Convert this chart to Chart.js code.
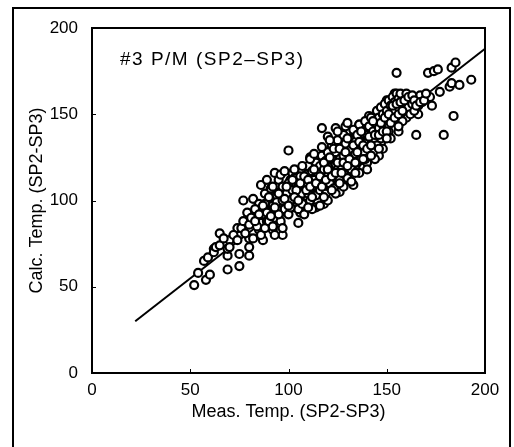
<!DOCTYPE html>
<html>
<head>
<meta charset="utf-8">
<script src="https://cdn.jsdelivr.net/npm/chart.js@4.4.0/dist/chart.umd.min.js"></script>
<style>
html,body{margin:0;padding:0;background:#fff;}
#wrap{width:514px;height:447px;position:relative;}
</style>
</head>
<body>
<div id="wrap"><canvas id="c" width="514" height="447"></canvas></div>
<script>
const chartTitle = "#3 P/M (SP2\u2013SP3)";
const xTitle = "Meas. Temp. (SP2-SP3)";
const yTitle = "Calc. Temp. (SP2-SP3)";
const xTicks = [0, 50, 100, 150, 200];
const yTicks = [0, 50, 100, 150, 200];

// fitted line end points
const fitX = [22, 200];
const fitY = [30, 188];

// measured temperatures (x) — each row pairs with the same row of calcY
const measX = [
 52,57,54,58,60,59,62,65,69,69,
 69,70,74,75,75,77,79,80,80,80,
 82,84,85,86,85,86,87,89,91,91,
 92,93,95,97,96,96,97,100,99,101,
 102,104,105,106,107,107,109,111,112,114,
 114,115,117,118,119,120,121,124,125,125,
 126,128,130,131,133,132,136,137,138,139,
 141,142,143,145,146,147,148,150,151,152,
 154,155,156,157,159,160,163,165,166,168,
 171,173,174,176,177,179,182,183,183,184,
 185,187,193,172,
 86,88,89,91,92,93,94,95,96,97,
 98,99,100,100,101,102,103,103,104,105,105,106,
 106,107,108,108,109,110,110,111,112,112,113,114,114,115,115,
 116,116,117,117,118,118,119,119,120,120,121,121,122,122,123,123,124,124,125,125,
 126,126,127,127,128,128,128,129,129,130,130,131,131,132,132,133,133,134,134,135,135,
 136,136,137,137,138,138,139,139,140,140,141,141,142,142,143,143,144,144,145,145,
 146,146,147,147,148,148,149,149,150,150,151,151,152,152,153,153,154,154,155,155,
 156,156,157,157,158,158,159,160,160,161,162,162,163,164,165,166,167,168,
 62,63,65,67,70,72,74,76,77,78,80,81,82,83,84,86,87,88,90,92,93,94,96,97,
 96,98,103,107,111,113,117,121,125,129,130,
 108,112,116,120,124,128,132,136,140,144,148,152,156,
 88,90,92,94,95,97,99,101,102,104,
 106,107,108,109,110,111,113,114,116,117,
 118,119,120,121,122,123,124,125,126,127,
 128,129,130,131,132,133,134,135,136,137,
 138,139,140,141,142,143,144,145,146,147,
 148,149,150,151,152,153,154,155,156,157,
 158,159,161,163,164,165,167,169,170,
 83,85,87,89,91,93,95,98,100,103,105,
 110,112,118,122,126,130,134,138,142,146,150
];
// calculated temperatures (y)
const calcY = [
 51,65,58,54,57,67,72,81,60,68,
 72,77,84,62,69,100,93,78,68,73,
 101,93,98,109,83,87,77,112,100,94,
 83,116,109,80,86,93,104,129,98,112,
 116,100,87,93,117,108,96,125,112,104,
 96,121,142,98,116,137,108,142,125,112,
 105,133,117,140,109,125,144,131,119,137,
 149,127,140,147,126,133,152,158,140,149,
 162,174,140,154,160,148,158,138,150,160,
 174,155,175,176,163,138,166,168,177,149,
 180,167,170,160,
 95,104,88,107,97,90,103,112,99,108,
 95,104,110,92,100,106,96,113,102,108,95,114,
 100,104,110,98,115,104,120,100,108,117,112,103,122,110,116,
 106,120,113,126,109,118,123,104,114,128,110,119,124,132,116,107,121,128,118,135,
 112,124,130,120,116,126,138,122,133,128,113,119,136,124,130,141,117,127,134,122,138,
 129,144,124,134,140,128,146,133,122,138,131,143,136,148,128,140,134,145,138,152,
 142,148,136,154,144,150,140,156,146,152,144,158,150,155,146,160,152,157,148,162,
 154,159,150,162,156,146,152,158,162,154,150,160,156,152,158,155,161,157,
 70,73,74,78,73,80,77,84,88,81,86,90,78,95,85,80,92,84,88,85,80,95,88,84,
 115,117,118,120,124,127,131,135,140,143,145,
 92,95,97,100,104,108,111,116,118,124,130,136,143,
 98,102,108,99,92,100,108,96,112,106,
 110,98,114,106,112,108,118,110,114,108,
 122,112,118,125,114,130,116,122,130,116,
 122,128,136,124,118,132,122,128,134,140,
 132,124,130,137,126,146,138,132,138,145,
 140,148,140,150,145,155,148,156,150,157,
 152,158,160,161,158,155,157,158,162,
 88,92,97,93,91,96,104,101,97,102,100,
 96,102,102,106,110,120,116,124,132,130,136
];

const points = measX.map((x, i) => ({x: x, y: calcY[i]}));
const linePts = fitX.map((x, i) => ({x: x, y: fitY[i]}));

const FONT = '"Liberation Sans", Arial, sans-serif';

const decor = {
  id: 'decor',
  afterDraw(chart) {
    const ctx = chart.ctx;
    const a = chart.chartArea;
    const xs = chart.scales.x, ys = chart.scales.y;
    ctx.save();
    ctx.strokeStyle = '#000';
    ctx.lineWidth = 2;
    ctx.beginPath();
    ctx.moveTo(13, 447); ctx.lineTo(13, 8); ctx.lineTo(510, 8); ctx.lineTo(510, 447);
    ctx.stroke();
    ctx.strokeRect(a.left, a.top, a.right - a.left, a.bottom - a.top);
    ctx.lineWidth = 1;
    ctx.beginPath();
    xTicks.forEach(v => {
      const px = Math.round(xs.getPixelForValue(v)) + 0.5;
      ctx.moveTo(px, a.bottom); ctx.lineTo(px, a.bottom - 4);
    });
    yTicks.forEach(v => {
      const py = Math.round(ys.getPixelForValue(v)) + 0.5;
      ctx.moveTo(a.left, py); ctx.lineTo(a.left + 4, py);
    });
    ctx.stroke();
    ctx.fillStyle = '#000';
    ctx.font = '19px ' + FONT;
    ctx.letterSpacing = '1.5px';
    ctx.textBaseline = 'middle';
    ctx.textAlign = 'left';
    ctx.fillText(chartTitle, 120, 60);
    ctx.restore();
  }
};

new Chart(document.getElementById('c'), {
  type: 'scatter',
  data: {
    datasets: [
      {
        data: points,
        pointStyle: 'circle',
        pointRadius: 4,
        pointBorderWidth: 2.2,
        pointBorderColor: '#000',
        pointBackgroundColor: '#fff',
        showLine: false
      },
      {
        data: linePts,
        showLine: true,
        borderColor: '#000',
        borderWidth: 2,
        pointRadius: 0,
        fill: false
      }
    ]
  },
  options: {
    responsive: false,
    animation: false,
    devicePixelRatio: 1,
    layout: { padding: { left: 0, right: 29, top: 28, bottom: 0 } },
    plugins: { legend: { display: false }, tooltip: { enabled: false } },
    scales: {
      x: {
        type: 'linear', min: 0, max: 200,
        afterFit(s) { s.height = 74; },
        afterBuildTicks(s) { s.ticks = xTicks.map(v => ({value: v})); },
        grid: { display: false, drawTicks: false },
        border: { display: false },
        ticks: { padding: 7, color: '#000', font: { family: FONT, size: 17 } },
        title: { display: true, text: xTitle, color: '#000', padding: { top: 0, bottom: 24 },
                 font: { family: FONT, size: 18 } }
      },
      y: {
        type: 'linear', min: 0, max: 200,
        afterFit(s) { s.width = 92; },
        afterBuildTicks(s) { s.ticks = yTicks.map(v => ({value: v})); },
        grid: { display: false, drawTicks: false },
        border: { display: false },
        ticks: { padding: 14, color: '#000', font: { family: FONT, size: 17 } },
        title: { display: true, text: yTitle, color: '#000', padding: { top: 26, bottom: 0 },
                 font: { family: FONT, size: 18 } }
      }
    }
  },
  plugins: [decor]
});
</script>
</body>
</html>
